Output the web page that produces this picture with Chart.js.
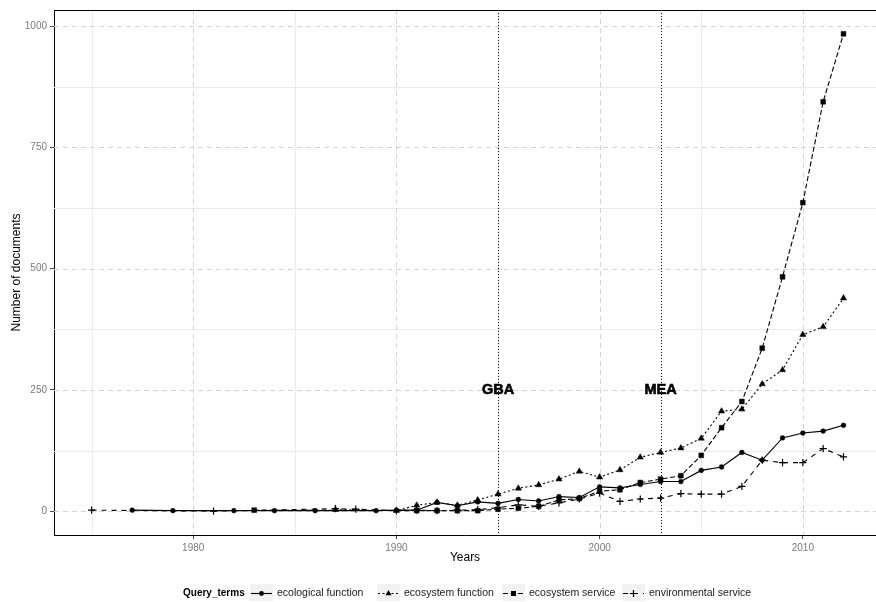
<!DOCTYPE html>
<html lang="en">
<head>
    <meta charset="UTF-8">
    <title>Query terms over time</title>
    <script src="https://cdn.jsdelivr.net/npm/chart.js"></script>
    <style>
        html, body { margin: 0; padding: 0; background: #ffffff; }
        #wrap { width: 876px; height: 602px; }
    </style>
</head>
<body>
    <div id="wrap"><canvas id="chart" width="876" height="602"></canvas></div>
    <script>
        // data
        const ecologicalFunctionYears = [1977, 1979, 1982, 1984, 1986, 1989, 1990, 1991, 1992, 1993, 1994, 1995, 1996, 1997, 1998, 1999, 2000, 2001, 2002, 2003, 2004, 2005, 2006, 2007, 2008, 2009, 2010, 2011, 2012];
        const ecologicalFunctionDocs = [2, 1, 1, 1, 1, 1, 2, 2, 18, 11, 19, 16, 24, 21, 30, 28, 50, 48, 55, 61, 61, 84, 91, 121, 105, 151, 161, 165, 177];

        const ecosystemFunctionYears = [1987, 1990, 1991, 1992, 1993, 1994, 1995, 1996, 1997, 1998, 1999, 2000, 2001, 2002, 2003, 2004, 2005, 2006, 2007, 2008, 2009, 2010, 2011, 2012];
        const ecosystemFunctionDocs = [3, 1, 12, 18, 12, 23, 35, 47, 54, 66, 82, 70, 85, 111, 121, 130, 150, 206, 210, 262, 291, 364, 380, 439];

        const ecosystemServiceYears = [1983, 1991, 1992, 1993, 1994, 1995, 1996, 1997, 1998, 1999, 2000, 2001, 2002, 2003, 2004, 2005, 2006, 2007, 2008, 2009, 2010, 2011, 2012];
        const ecosystemServiceDocs = [2, 1, 1, 1, 1, 4, 6, 10, 23, 26, 41, 44, 59, 66, 73, 115, 172, 226, 336, 483, 636, 844, 984];

        const environmentalServiceYears = [1975, 1981, 1987, 1988, 1990, 1991, 1992, 1993, 1994, 1995, 1996, 1997, 1998, 1999, 2000, 2001, 2002, 2003, 2004, 2005, 2006, 2007, 2008, 2009, 2010, 2011, 2012];
        const environmentalServiceDocs = [2, 0, 5, 4, 1, 2, 1, 2, 3, 7, 13, 10, 17, 25, 37, 20, 25, 27, 36, 35, 35, 51, 105, 100, 100, 129, 112];

        const xMajorTicks = [1980, 1990, 2000, 2010];
        const xMinorTicks = [1975, 1985, 1995, 2005];
        const yMajorTicks = [0, 250, 500, 750, 1000];
        const yMinorTicks = [125, 375, 625, 875];

        const eventYears = [1995, 2003];
        const eventLabels = ['GBA', 'MEA'];
        const eventLabelLevel = 250;

        const seriesNames = ['ecological function', 'ecosystem function', 'ecosystem service', 'environmental service'];
        const seriesDash = [[], [2, 2.5], [5, 2.5], [5, 5]];
        const seriesShape = ['circle', 'triangle', 'rect', 'cross'];
        const seriesRadius = [2.4, 3.6, 3.4, 3.6];

        const FONT = 'Liberation Sans, Arial, Helvetica, sans-serif';

        function toPoints(xs, ys) {
            return xs.map((x, i) => ({ x: x, y: ys[i] }));
        }

        const seriesData = [
            toPoints(ecologicalFunctionYears, ecologicalFunctionDocs),
            toPoints(ecosystemFunctionYears, ecosystemFunctionDocs),
            toPoints(ecosystemServiceYears, ecosystemServiceDocs),
            toPoints(environmentalServiceYears, environmentalServiceDocs)
        ];

        const datasets = seriesNames.map((name, i) => ({
            label: name,
            data: seriesData[i],
            borderColor: '#000000',
            backgroundColor: '#000000',
            borderWidth: 1.1,
            borderDash: seriesDash[i],
            pointStyle: seriesShape[i],
            pointRadius: seriesRadius[i],
            pointBackgroundColor: '#000000',
            pointBorderColor: '#000000',
            pointBorderWidth: seriesShape[i] === 'cross' ? 1.2 : 0.5,
            pointHoverRadius: seriesRadius[i],
            tension: 0,
            fill: false,
            clip: false,
            order: 4 - i
        }));

        // grid, panel frame, event lines and their labels
        const backdrop = {
            id: 'backdrop',
            beforeDatasetsDraw(chart) {
                const { ctx, chartArea: a, scales } = chart;
                const x = scales.x, y = scales.y;
                ctx.save();
                ctx.lineWidth = 1;
                ctx.strokeStyle = '#ebebeb';
                xMinorTicks.forEach(v => {
                    const px = Math.round(x.getPixelForValue(v)) + 0.5;
                    ctx.beginPath(); ctx.moveTo(px, a.top); ctx.lineTo(px, a.bottom); ctx.stroke();
                });
                yMinorTicks.forEach(v => {
                    const py = Math.round(y.getPixelForValue(v)) + 0.5;
                    ctx.beginPath(); ctx.moveTo(a.left, py); ctx.lineTo(a.right, py); ctx.stroke();
                });
                ctx.strokeStyle = '#d4d4d4';
                ctx.setLineDash([5, 4]);
                xMajorTicks.forEach(v => {
                    const px = Math.round(x.getPixelForValue(v)) + 0.5;
                    ctx.beginPath(); ctx.moveTo(px, a.top); ctx.lineTo(px, a.bottom); ctx.stroke();
                });
                yMajorTicks.forEach(v => {
                    const py = Math.round(y.getPixelForValue(v)) + 0.5;
                    ctx.beginPath(); ctx.moveTo(a.left, py); ctx.lineTo(a.right, py); ctx.stroke();
                });
                ctx.setLineDash([1, 2]);
                ctx.strokeStyle = '#000000';
                eventYears.forEach(v => {
                    const px = Math.round(x.getPixelForValue(v)) + 0.5;
                    ctx.beginPath(); ctx.moveTo(px, a.top); ctx.lineTo(px, a.bottom); ctx.stroke();
                });
                ctx.setLineDash([]);
                ctx.beginPath(); ctx.moveTo(a.left, a.top + 0.5); ctx.lineTo(a.right, a.top + 0.5); ctx.stroke();
                ctx.fillStyle = '#000000';
                ctx.font = 'bold 14.5px ' + FONT;
                ctx.textAlign = 'center';
                ctx.textBaseline = 'middle';
                ctx.lineWidth = 0.6;
                eventYears.forEach((v, i) => {
                    const px = x.getPixelForValue(v);
                    const py = y.getPixelForValue(eventLabelLevel);
                    ctx.fillText(eventLabels[i], px, py);
                    ctx.strokeText(eventLabels[i], px, py);
                });
                ctx.restore();
            }
        };

        function drawKeyMarker(ctx, shape, cx, cy) {
            ctx.fillStyle = '#000000';
            ctx.strokeStyle = '#000000';
            ctx.setLineDash([]);
            ctx.beginPath();
            if (shape === 'circle') {
                ctx.arc(cx, cy, 2.4, 0, Math.PI * 2);
                ctx.fill();
            } else if (shape === 'triangle') {
                ctx.moveTo(cx, cy - 3.4);
                ctx.lineTo(cx + 3, cy + 1.8);
                ctx.lineTo(cx - 3, cy + 1.8);
                ctx.closePath();
                ctx.fill();
            } else if (shape === 'rect') {
                ctx.rect(cx - 2.5, cy - 2.5, 5, 5);
                ctx.fill();
            } else {
                ctx.lineWidth = 1.2;
                ctx.moveTo(cx - 3.6, cy); ctx.lineTo(cx + 3.6, cy);
                ctx.moveTo(cx, cy - 3.6); ctx.lineTo(cx, cy + 3.6);
                ctx.stroke();
            }
        }

        // legend at the bottom, ggplot style
        const bottomLegend = {
            id: 'bottomLegend',
            afterDraw(chart) {
                const ctx = chart.ctx;
                const cy = 593;
                const keyX = [250, 377, 502, 622];
                ctx.save();
                ctx.textBaseline = 'middle';
                ctx.textAlign = 'left';
                ctx.fillStyle = '#000000';
                ctx.font = 'bold 10px ' + FONT;
                ctx.fillText('Query_terms', 183, cy);
                seriesNames.forEach((name, i) => {
                    const kx = keyX[i];
                    ctx.fillStyle = '#f2f2f2';
                    ctx.fillRect(kx, 584, 23, 17);
                    ctx.strokeStyle = '#000000';
                    ctx.lineWidth = 1.1;
                    ctx.setLineDash(seriesDash[i]);
                    ctx.beginPath();
                    ctx.moveTo(kx + 1, cy + 0.5);
                    ctx.lineTo(kx + 22, cy + 0.5);
                    ctx.stroke();
                    drawKeyMarker(ctx, seriesShape[i], kx + 11.5, cy + 0.5);
                    ctx.fillStyle = '#1a1a1a';
                    ctx.font = '10.5px ' + FONT;
                    ctx.fillText(name, kx + 27, cy);
                });
                ctx.restore();
            }
        };

        new Chart(document.getElementById('chart').getContext('2d'), {
            type: 'line',
            data: { datasets: datasets },
            options: {
                responsive: false,
                animation: false,
                events: [],
                layout: { autoPadding: false, padding: { top: 10, right: 0, left: 9, bottom: 37 } },
                plugins: {
                    legend: { display: false },
                    tooltip: { enabled: false }
                },
                scales: {
                    x: {
                        type: 'linear',
                        min: 1973.15,
                        max: 2013.6,
                        afterBuildTicks: s => { s.ticks = xMajorTicks.map(v => ({ value: v })); },
                        afterFit: s => { s.height = 30; },
                        grid: { drawOnChartArea: false, drawTicks: true, tickLength: 4, tickColor: '#4d4d4d', tickWidth: 1 },
                        border: { display: true, color: '#000000', width: 1 },
                        ticks: {
                            color: '#7a7a7a',
                            font: { family: FONT, size: 10 },
                            padding: 3,
                            maxRotation: 0,
                            callback: v => String(v)
                        },
                        title: {
                            display: true,
                            text: 'Years',
                            color: '#000000',
                            font: { family: FONT, size: 12 },
                            padding: { top: 1, bottom: 0 }
                        }
                    },
                    y: {
                        type: 'linear',
                        min: -49.2,
                        max: 1033.2,
                        afterBuildTicks: s => { s.ticks = yMajorTicks.map(v => ({ value: v })); },
                        afterFit: s => { s.width = 45; },
                        grid: { drawOnChartArea: false, drawTicks: true, tickLength: 4, tickColor: '#4d4d4d', tickWidth: 1 },
                        border: { display: true, color: '#000000', width: 1 },
                        ticks: {
                            color: '#7a7a7a',
                            font: { family: FONT, size: 10 },
                            padding: 3,
                            callback: v => String(v)
                        },
                        title: {
                            display: true,
                            text: 'Number of documents',
                            color: '#000000',
                            font: { family: FONT, size: 12 },
                            padding: { top: 0, bottom: 4 }
                        }
                    }
                }
            },
            plugins: [backdrop, bottomLegend]
        });
    </script>
</body>
</html>
